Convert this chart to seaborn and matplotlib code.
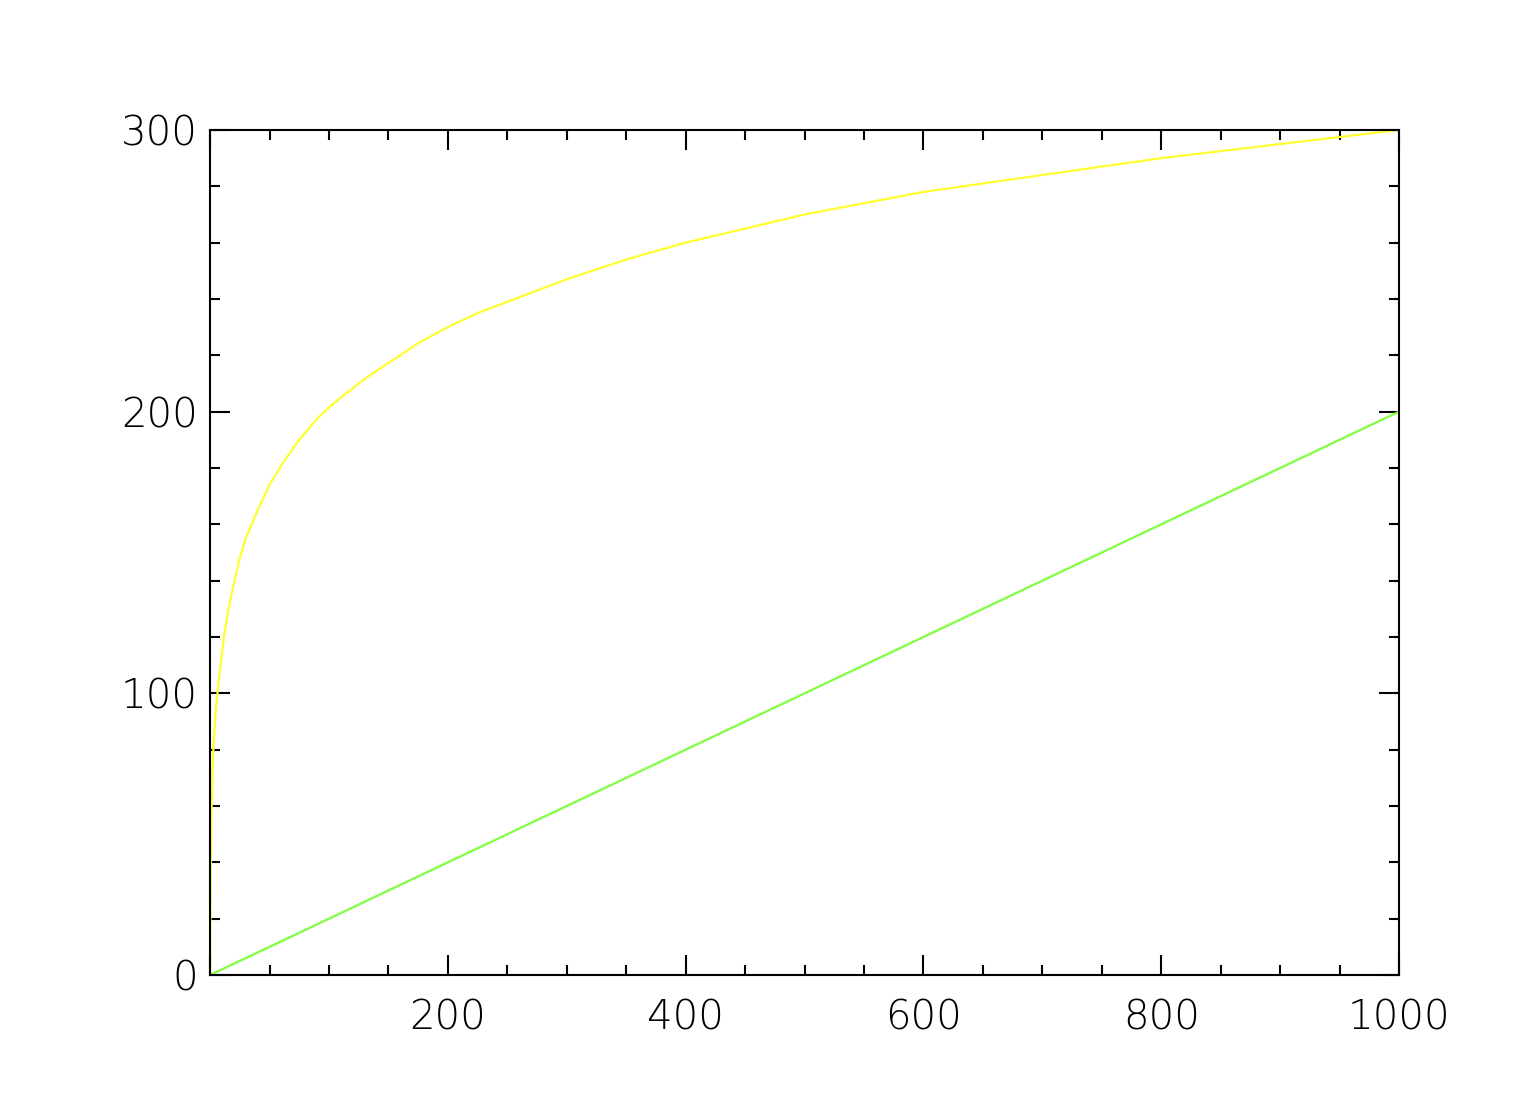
import matplotlib
matplotlib.use("Agg")
import matplotlib.pyplot as plt
import seaborn as sns
import pandas as pd
from matplotlib.ticker import MultipleLocator, FixedLocator

# Values
curve_x = [0, 1, 2, 3, 5, 8, 12, 16, 20, 25, 30, 40, 50, 60, 75, 90, 100,
           110, 125, 140, 150, 160, 175, 200, 225, 250, 275, 300, 350, 400,
           450, 500, 550, 600, 650, 700, 750, 800, 850, 900, 950, 1000]
curve_y = [0, 52, 72, 82, 95, 107, 121, 131, 139, 148, 155, 165, 174, 181,
           190, 197.5, 201.5, 205, 210, 214.5, 217.3, 220, 224.3, 230, 235,
           239, 243, 247, 254, 260, 265, 270, 274, 278, 281, 284, 287, 290,
           292.5, 295, 297.5, 300]
line_x = [0, 500, 1000]
line_y = [0, 100, 200]

x_ticks = [0, 200, 400, 600, 800, 1000]
x_labels = ["", "200", "400", "600", "800", "1000"]
y_ticks = [0, 100, 200, 300]
y_labels = ["0", "100", "200", "300"]

sns.set_style("white")
plt.rcParams["font.family"] = ["DejaVu Sans"]

fig = plt.figure(figsize=(15.31, 11.08), dpi=100)
ax = fig.add_axes([0.1372, 0.12, 0.9138 - 0.1372, 0.8827 - 0.12])

df_curve = pd.DataFrame({"x": curve_x, "y": curve_y})
df_line = pd.DataFrame({"x": line_x, "y": line_y})
sns.lineplot(data=df_curve, x="x", y="y", ax=ax, color="#ffff30", lw=1.6,
             estimator=None, sort=False)
sns.lineplot(data=df_line, x="x", y="y", ax=ax, color="#80ff40", lw=1.6,
             estimator=None, sort=False)

ax.set_xlim(0, 1000)
ax.set_ylim(0, 300)
ax.xaxis.set_major_locator(FixedLocator(x_ticks))
ax.yaxis.set_major_locator(FixedLocator(y_ticks))
ax.set_xticklabels(x_labels)
ax.set_yticklabels(y_labels)
ax.xaxis.set_minor_locator(MultipleLocator(50))
ax.yaxis.set_minor_locator(MultipleLocator(20))

ax.tick_params(which="both", direction="in", top=True, right=True,
               bottom=True, left=True, color="black", width=1.5)
ax.tick_params(which="major", length=14.5, labelsize=29)
ax.tick_params(which="minor", length=7.2)
ax.tick_params(axis="x", which="major", pad=17)
ax.tick_params(axis="y", which="major", pad=9)
for lab in ax.get_xticklabels() + ax.get_yticklabels():
    lab.set_fontweight("light")
    lab.set_color("black")

for s in ax.spines.values():
    s.set_visible(True)
    s.set_color("black")
    s.set_linewidth(1.5)

ax.set_xlabel("")
ax.set_ylabel("")

fig.savefig("out.png", dpi=100)
